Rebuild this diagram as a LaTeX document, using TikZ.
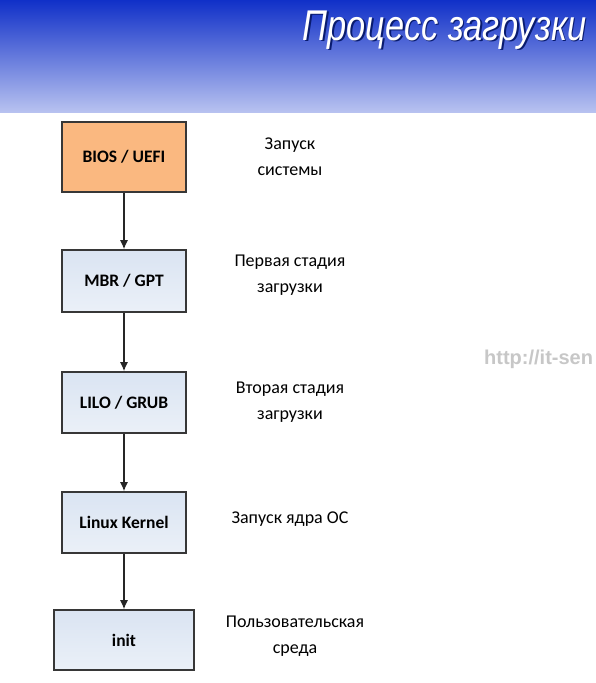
\documentclass[tikz,border=0pt]{standalone}
\usepackage{fontspec}
\setmainfont{Carlito}
\newfontfamily\titlefont{Liberation Sans}
\usepackage{graphicx}
\usepackage{tikz}
\usetikzlibrary{arrows.meta}
\definecolor{hdrtop}{RGB}{16,48,200}
\definecolor{hdrbot}{RGB}{184,194,240}
\definecolor{boxedge}{RGB}{55,55,55}
\definecolor{biosfill}{RGB}{250,184,128}
\definecolor{stepfill}{RGB}{218,228,242}

\begin{document}
\begin{tikzpicture}[x=1pt,y=-1pt,
    stage/.style={draw=boxedge,line width=1.6pt,minimum width=124pt,minimum height=61pt,
      top color=stepfill,bottom color=stepfill!55!white,font=\fontsize{17.5}{19}\selectfont\bfseries},
    note/.style={align=center,font=\fontsize{18}{26}\selectfont},
    flow/.style={-{Latex[length=9pt,width=8pt]},line width=1.3pt,draw=black!85}]
    \useasboundingbox (0,0) rectangle (596,683);
    \fill[white] (0,0) rectangle (596,683);
    % header band
    \shade[top color=hdrtop,bottom color=hdrbot,middle color=hdrtop!50!hdrbot] (0,0) rectangle (596,112);
    \node[anchor=base east,text=hdrtop!55!black] at (591.5,41.5)
      {\scalebox{0.8}[1]{\titlefont\itshape\fontsize{43}{43}\selectfont Процесс загрузки}};
    \node[anchor=base east,text=white] (title) at (590,40)
      {\scalebox{0.8}[1]{\titlefont\itshape\fontsize{43}{43}\selectfont Процесс загрузки}};
    % watermark
    \node[anchor=base west,inner sep=0pt,text=black!22,font=\titlefont\bfseries\fontsize{20}{20}\selectfont] (url) at (484,364) {http://it-sen};
    % stages
    \node[stage,top color=biosfill,bottom color=biosfill,minimum height=70pt] (bios) at (124,157) {BIOS / UEFI};
    \node[stage,minimum height=62pt] (mbr) at (124,281) {MBR / GPT};
    \node[stage] (grub) at (124,402.5) {LILO / GRUB};
    \node[stage] (kernel) at (124,522.5) {Linux Kernel};
    \node[stage,minimum width=140pt,minimum height=60pt] (init) at (124,640) {init};
    \foreach \a/\b in {bios/mbr,mbr/grub,grub/kernel,kernel/init}
      \draw[flow] (\a) -- (\b);
    % descriptions
    \node[note] (dbios) at (290,157) {Запуск\\системы};
    \node[note] (dmbr) at (290,275) {Первая стадия\\загрузки};
    \node[note] (dgrub) at (290,402) {Вторая стадия\\загрузки};
    \node[note] (dkernel) at (290,519) {Запуск ядра ОС};
    \node[note] (dinit) at (295,636) {Пользовательская\\среда};
\end{tikzpicture}
\end{document}
